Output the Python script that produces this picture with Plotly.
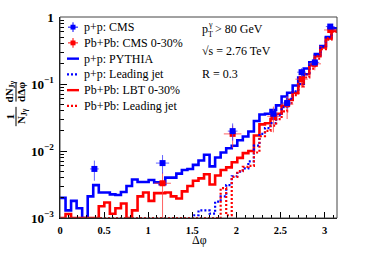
import numpy as np
import plotly.graph_objects as go

# ---------------- data ----------------
n_bins = 50
bin_edges = np.linspace(0.0, np.pi, n_bins + 1)

pp_pythia = [2.0e-3, 1.3e-3, 1.8e-3, 1.4e-3, 0.0, 2.1e-3, 3.1e-3, 2.4e-3, 2.4e-3, 2.25e-3,
             2.2e-3, 2.45e-3, 3.0e-3, 3.75e-3, 3.45e-3, 3.45e-3, 3.7e-3, 3.4e-3, 3.2e-3, 4.0e-3,
             4.0e-3, 4.6e-3, 5.2e-3, 5.4e-3, 6.2e-3, 7.2e-3, 8.8e-3, 5.9e-3, 8.0e-3, 9.5e-3,
             1.1e-2, 1.2e-2, 1.45e-2, 1.65e-2, 1.95e-2, 2.8e-2, 3.5e-2, 3.6e-2, 4.1e-2, 4.8e-2,
             6.5e-2, 7.4e-2, 9.5e-2, 0.125, 0.17, 0.21, 0.28, 0.37, 0.50, 0.68]

pp_leading = [0.0] * 24 + [1.1e-3, 1.3e-3, 1.3e-3, 1.16e-3, 1.75e-3, 2.1e-3,
              3.1e-3, 4.2e-3, 4.9e-3, 5.5e-3, 7.0e-3, 1.2e-2, 1.8e-2, 2.2e-2, 2.6e-2, 3.4e-2,
              4.5e-2, 6.0e-2, 7.8e-2, 0.10, 0.14, 0.20, 0.27, 0.36, 0.50, 0.66]

pbpb_lbt = [0.0, 1.15e-3, 0.0, 0.0, 0.0, 0.0, 0.0, 1.5e-3, 1.7e-3, 1.16e-3,
            1.4e-3, 1.65e-3, 0.0, 1.3e-3, 2.1e-3, 2.4e-3, 1.8e-3, 2.35e-3, 2.35e-3, 2.4e-3,
            2.1e-3, 1.95e-3, 2.5e-3, 3.0e-3, 3.6e-3, 3.9e-3, 4.5e-3, 3.16e-3, 4.3e-3, 5.2e-3,
            5.7e-3, 6.8e-3, 7.9e-3, 9.3e-3, 1.0e-2, 1.7e-2, 2.5e-2, 2.6e-2, 3.0e-2, 3.6e-2,
            4.7e-2, 5.8e-2, 7.4e-2, 0.10, 0.14, 0.19, 0.26, 0.35, 0.48, 0.62]

pbpb_leading = [0.0] * 29 + [2.8e-3, 1.1e-3, 4.1e-3, 5.0e-3, 5.8e-3, 6.0e-3, 9.5e-3, 1.66e-2,
                2.0e-2, 2.4e-2, 3.0e-2, 3.9e-2, 5.2e-2, 6.8e-2, 0.092, 0.125, 0.17, 0.24,
                0.33, 0.46, 0.60]

cms_pp_x = [0.39, 1.163, 1.958, 2.42, 2.576, 2.74, 2.89, 3.065]
cms_pp_y = [5.4e-3, 6.6e-3, 1.98e-2, 3.6e-2, 5.2e-2, 0.15, 0.21, 0.72]
cms_pp_yerr_up = [1.8e-3, 2.1e-3, 6.0e-3, 7.0e-3, 9.0e-3, 0.022, 0.025, 0.06]
cms_pp_yerr_dn = [1.8e-3, 2.0e-3, 5.5e-3, 7.0e-3, 9.0e-3, 0.022, 0.025, 0.06]
cms_pp_xerr = [0.05, 0.075, 0.055, 0.05, 0.05, 0.05, 0.05, 0.05]

cms_pbpb_x = [1.163, 1.958, 2.42, 2.576, 2.74, 2.89, 3.065]
cms_pbpb_y = [3.3e-3, 1.8e-2, 3.3e-2, 5.0e-2, 0.118, 0.20, 0.64]
cms_pbpb_yerr_up = [1.5e-3, 6.0e-3, 1.3e-2, 1.6e-2, 0.03, 0.04, 0.08]
cms_pbpb_yerr_dn = [3.0e-3, 7.0e-3, 1.4e-2, 2.0e-2, 0.03, 0.04, 0.08]
cms_pbpb_xerr = [0.095, 0.1, 0.07, 0.07, 0.07, 0.07, 0.07]

legend_labels = ["p+p: CMS", "Pb+Pb: CMS 0-30%", "p+p: PYTHIA", "p+p: Leading jet",
                 "Pb+Pb: LBT 0-30%", "Pb+Pb: Leading jet"]

BLUE = "#0000ff"
RED = "#ff0000"
FONT = "Liberation Serif"
Y_FLOOR = 1.0e-3

# ---------------- geometry helpers (pixels -> paper) ----------------
W, H = 365, 262
L, R, T, B = 60, 28, 10, 44
PW, PH = W - L - R, H - T - B


def px(xp):
    return (xp - L) / PW


def py(yp):
    return (H - B - yp) / PH


def step_trace(vals, color, dash, width):
    v = [max(a, Y_FLOOR) for a in vals]
    return go.Scatter(x=list(bin_edges), y=v + [v[-1]], mode="lines",
                      line=dict(color=color, width=width, dash=dash, shape="hv"),
                      hoverinfo="skip", showlegend=False)


fig = go.Figure()
fig.add_trace(step_trace(pp_pythia, BLUE, "solid", 2.6))
fig.add_trace(step_trace(pbpb_lbt, RED, "solid", 2.6))
fig.add_trace(step_trace(pp_leading, BLUE, "2px,2px", 2.2))
fig.add_trace(step_trace(pbpb_leading, RED, "2px,2px", 2.2))

fig.add_trace(go.Scatter(
    x=cms_pbpb_x, y=cms_pbpb_y, mode="markers",
    marker=dict(symbol="square", size=6, color=RED),
    error_x=dict(type="data", array=cms_pbpb_xerr, color="rgba(255,60,60,0.8)", thickness=1, width=0),
    error_y=dict(type="data", array=cms_pbpb_yerr_up, arrayminus=cms_pbpb_yerr_dn, symmetric=False,
                 color="rgba(255,60,60,0.8)", thickness=1, width=0),
    showlegend=False))
fig.add_trace(go.Scatter(
    x=cms_pp_x, y=cms_pp_y, mode="markers",
    marker=dict(symbol="square", size=6, color=BLUE),
    error_x=dict(type="data", array=cms_pp_xerr, color="rgba(60,60,255,0.8)", thickness=1, width=0),
    error_y=dict(type="data", array=cms_pp_yerr_up, arrayminus=cms_pp_yerr_dn, symmetric=False,
                 color="rgba(60,60,255,0.8)", thickness=1, width=0),
    showlegend=False))

fig.update_layout(
    width=W, height=H, margin=dict(l=L, r=R, t=T, b=B, pad=0),
    paper_bgcolor="white", plot_bgcolor="white", showlegend=False,
    font=dict(family=FONT, color="black"),
)
fig.update_xaxes(range=[0, np.pi], tickmode="array", tickvals=[0, 0.5, 1, 1.5, 2, 2.5, 3],
                 ticktext=["0", "0.5", "1", "1.5", "2", "2.5", "3"],
                 ticks="inside", ticklen=6, tickwidth=1, tickcolor="black",
                 minor=dict(ticks="inside", ticklen=3, dtick=0.1, tick0=0, tickcolor="black", showgrid=False),
                 showgrid=False, zeroline=False, showline=True, linecolor="black", linewidth=1,
                 tickfont=dict(family=FONT, size=10.5, weight="bold"), ticklabelstandoff=2)
fig.update_yaxes(type="log", range=[-3, 0], dtick=1, exponentformat="power",
                 ticks="inside", ticklen=7, tickwidth=1, tickcolor="black",
                 minor=dict(ticks="inside", ticklen=4, dtick="D1", tickcolor="black", showgrid=False),
                 showgrid=False, zeroline=False, showline=True, linecolor="black", linewidth=1,
                 tickfont=dict(family=FONT, size=10.5, weight="bold"), ticklabelstandoff=3)

shapes = [dict(type="rect", xref="paper", yref="paper", x0=0, x1=1, y0=0, y1=1,
               line=dict(color="#444", width=1), layer="above")]
annotations = []

# legend (manual, ROOT-style)
rows = [20.5, 36.8, 53.1, 69.4, 85.7, 102.0]
for i, (lab, yr) in enumerate(zip(legend_labels, rows)):
    annotations.append(dict(text=lab, xref="paper", yref="paper", x=px(81.5), y=py(yr),
                            xanchor="left", yanchor="middle", showarrow=False,
                            font=dict(family=FONT, size=12, color="black")))
    if i < 2:
        c = BLUE if i == 0 else RED
        shapes.append(dict(type="line", xref="paper", yref="paper", x0=px(68), x1=px(78),
                           y0=py(yr), y1=py(yr), line=dict(color=c, width=1)))
        shapes.append(dict(type="line", xref="paper", yref="paper", x0=px(73), x1=px(73),
                           y0=py(yr - 5), y1=py(yr + 5), line=dict(color=c, width=1)))
        shapes.append(dict(type="rect", xref="paper", yref="paper", x0=px(70.5), x1=px(75.5),
                           y0=py(yr + 2.5), y1=py(yr - 2.5), fillcolor=c, line=dict(width=0)))
    else:
        c = BLUE if i in (2, 3) else RED
        dash = "solid" if i in (2, 4) else "2px,2px"
        shapes.append(dict(type="line", xref="paper", yref="paper", x0=px(67), x1=px(79),
                           y0=py(yr), y1=py(yr), line=dict(color=c, width=2.4, dash=dash)))

# kinematic labels
annotations += [
    dict(text="p", x=px(199.5), y=py(22.5), xanchor="left", yanchor="middle",
         font=dict(family=FONT, size=12)),
    dict(text="γ", x=px(205.5), y=py(17.5), xanchor="left", yanchor="middle",
         font=dict(family=FONT, size=8)),
    dict(text="T", x=px(205.5), y=py(28.5), xanchor="left", yanchor="middle",
         font=dict(family=FONT, size=8)),
    dict(text="> 80 GeV", x=px(212.5), y=py(22.5), xanchor="left", yanchor="middle",
         font=dict(family=FONT, size=12)),
    dict(text="√s = 2.76 TeV", x=px(199.5), y=py(45), xanchor="left", yanchor="middle",
         font=dict(family=FONT, size=12)),
    dict(text="R = 0.3", x=px(199.5), y=py(68.5), xanchor="left", yanchor="middle",
         font=dict(family=FONT, size=12)),
    # x title
    dict(text="Δφ", x=px(199), y=py(241), xanchor="center", yanchor="middle",
         font=dict(family=FONT, size=12)),
    # y title as two stacked fractions
    dict(text="<b>dN<sub>Jγ</sub></b>", x=px(10), y=py(87), xanchor="center", yanchor="middle",
         textangle=-90, font=dict(family=FONT, size=11)),
    dict(text="<b>dΔφ</b>", x=px(21.5), y=py(88), xanchor="center", yanchor="middle",
         textangle=-90, font=dict(family=FONT, size=11)),
    dict(text="<b>1</b>", x=px(10.5), y=py(112.5), xanchor="center", yanchor="middle",
         textangle=-90, font=dict(family=FONT, size=11)),
    dict(text="<b>N<sub>Jγ</sub></b>", x=px(21.5), y=py(113), xanchor="center", yanchor="middle",
         textangle=-90, font=dict(family=FONT, size=11)),
]
for a in annotations:
    a.setdefault("xref", "paper")
    a.setdefault("yref", "paper")
    a.setdefault("showarrow", False)

shapes.append(dict(type="line", xref="paper", yref="paper", x0=px(16), x1=px(16),
                   y0=py(78), y1=py(97.5), line=dict(color="black", width=1)))
shapes.append(dict(type="line", xref="paper", yref="paper", x0=px(16), x1=px(16),
                   y0=py(103), y1=py(123), line=dict(color="black", width=1)))

fig.update_layout(shapes=shapes, annotations=annotations)
fig.write_html("out.html", config={"displayModeBar": False, "staticPlot": True},
               post_script="document.body.style.margin='0';document.body.style.overflow='hidden';")
